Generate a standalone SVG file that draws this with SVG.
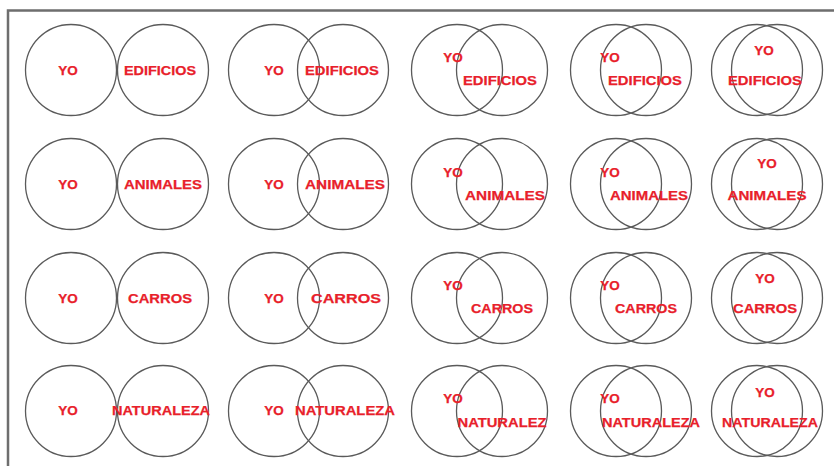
<svg xmlns="http://www.w3.org/2000/svg" width="834" height="466" viewBox="0 0 834 466">
<style>
.c{fill:none;stroke:#5a5a5a;stroke-width:1.3}
.t{font-family:"Liberation Sans",Arial,sans-serif;font-weight:bold;font-size:13.5px;fill:#e8202a;stroke:#e8202a;stroke-width:0.25;text-anchor:middle}
.f{stroke:#6e6e6e;stroke-width:2.5;fill:none}
</style>
<rect width="834" height="466" fill="#ffffff"/>
<path class="f" d="M8,466 V10.5 H834"/>
<defs>
<g id="p1"><circle class="c" cx="71" cy="0" r="45.5"/><circle class="c" cx="163" cy="0" r="45.5"/></g>
<g id="p2"><circle class="c" cx="274" cy="0" r="45.5"/><circle class="c" cx="343" cy="0" r="45.5"/></g>
<g id="p3"><circle class="c" cx="457" cy="0" r="45.5"/><circle class="c" cx="502" cy="0" r="45.5"/></g>
<g id="p4"><circle class="c" cx="616" cy="0" r="45.5"/><circle class="c" cx="646" cy="0" r="45.5"/></g>
<g id="p5"><circle class="c" cx="757" cy="0" r="45.5"/><circle class="c" cx="777" cy="0" r="45.5"/></g>
</defs>

<!-- Row 1 -->
<g id="r1c1" transform="translate(0,70)"><use href="#p1"/><text class="t" x="68" y="5">YO</text><text class="t" x="160" y="5" textLength="72" lengthAdjust="spacingAndGlyphs">EDIFICIOS</text></g>
<g id="r1c2" transform="translate(0,70)"><use href="#p2"/><text class="t" x="274" y="5">YO</text><text class="t" x="342" y="5" textLength="74" lengthAdjust="spacingAndGlyphs">EDIFICIOS</text></g>
<g id="r1c3" transform="translate(0,70)"><use href="#p3"/><text class="t" x="453" y="-8">YO</text><text class="t" x="500" y="15" textLength="74" lengthAdjust="spacingAndGlyphs">EDIFICIOS</text></g>
<g id="r1c4" transform="translate(0,70)"><use href="#p4"/><text class="t" x="610" y="-8">YO</text><text class="t" x="645" y="15" textLength="74" lengthAdjust="spacingAndGlyphs">EDIFICIOS</text></g>
<g id="r1c5" transform="translate(0,70)"><use href="#p5"/><text class="t" x="764" y="-15">YO</text><text class="t" x="765" y="15" textLength="74" lengthAdjust="spacingAndGlyphs">EDIFICIOS</text></g>

<!-- Row 2 -->
<g id="r2c1" transform="translate(0,184)"><use href="#p1"/><text class="t" x="68" y="4.5">YO</text><text class="t" x="163" y="4.5" textLength="78" lengthAdjust="spacingAndGlyphs">ANIMALES</text></g>
<g id="r2c2" transform="translate(0,184)"><use href="#p2"/><text class="t" x="274" y="4.5">YO</text><text class="t" x="345" y="4.5" textLength="80" lengthAdjust="spacingAndGlyphs">ANIMALES</text></g>
<g id="r2c3" transform="translate(0,184)"><use href="#p3"/><text class="t" x="453" y="-7">YO</text><text class="t" x="505" y="16" textLength="80" lengthAdjust="spacingAndGlyphs">ANIMALES</text></g>
<g id="r2c4" transform="translate(0,184)"><use href="#p4"/><text class="t" x="610" y="-7">YO</text><text class="t" x="649" y="16" textLength="78" lengthAdjust="spacingAndGlyphs">ANIMALES</text></g>
<g id="r2c5" transform="translate(0,184)"><use href="#p5"/><text class="t" x="767" y="-16">YO</text><text class="t" x="767" y="16" textLength="79" lengthAdjust="spacingAndGlyphs">ANIMALES</text></g>

<!-- Row 3 -->
<g id="r3c1" transform="translate(0,298)"><use href="#p1"/><text class="t" x="68" y="5">YO</text><text class="t" x="160" y="5" textLength="64" lengthAdjust="spacingAndGlyphs">CARROS</text></g>
<g id="r3c2" transform="translate(0,298)"><use href="#p2"/><text class="t" x="274" y="5">YO</text><text class="t" x="346" y="5" textLength="70" lengthAdjust="spacingAndGlyphs">CARROS</text></g>
<g id="r3c3" transform="translate(0,298)"><use href="#p3"/><text class="t" x="453" y="-8">YO</text><text class="t" x="502" y="15" textLength="62" lengthAdjust="spacingAndGlyphs">CARROS</text></g>
<g id="r3c4" transform="translate(0,298)"><use href="#p4"/><text class="t" x="610" y="-8">YO</text><text class="t" x="646" y="15" textLength="62" lengthAdjust="spacingAndGlyphs">CARROS</text></g>
<g id="r3c5" transform="translate(0,298)"><use href="#p5"/><text class="t" x="765" y="-15">YO</text><text class="t" x="765" y="15" textLength="64" lengthAdjust="spacingAndGlyphs">CARROS</text></g>

<!-- Row 4 -->
<g id="r4c1" transform="translate(0,411)"><use href="#p1"/><text class="t" x="68" y="4">YO</text><text class="t" x="161" y="4" textLength="98" lengthAdjust="spacingAndGlyphs">NATURALEZA</text></g>
<g id="r4c2" transform="translate(0,411)"><use href="#p2"/><text class="t" x="274" y="4">YO</text><text class="t" x="345" y="4" textLength="100" lengthAdjust="spacingAndGlyphs">NATURALEZA</text></g>
<g id="r4c3" transform="translate(0,411)"><use href="#p3"/><text class="t" x="453" y="-8">YO</text><text class="t" x="502" y="16" textLength="89" lengthAdjust="spacingAndGlyphs">NATURALEZ</text></g>
<g id="r4c4" transform="translate(0,411)"><use href="#p4"/><text class="t" x="651" y="16" textLength="98" lengthAdjust="spacingAndGlyphs">NATURALEZA</text><text class="t" x="610" y="-8">YO</text></g>
<g id="r4c5" transform="translate(0,411)"><use href="#p5"/><text class="t" x="765" y="-14">YO</text><text class="t" x="770" y="16" textLength="96" lengthAdjust="spacingAndGlyphs">NATURALEZA</text></g>
</svg>
